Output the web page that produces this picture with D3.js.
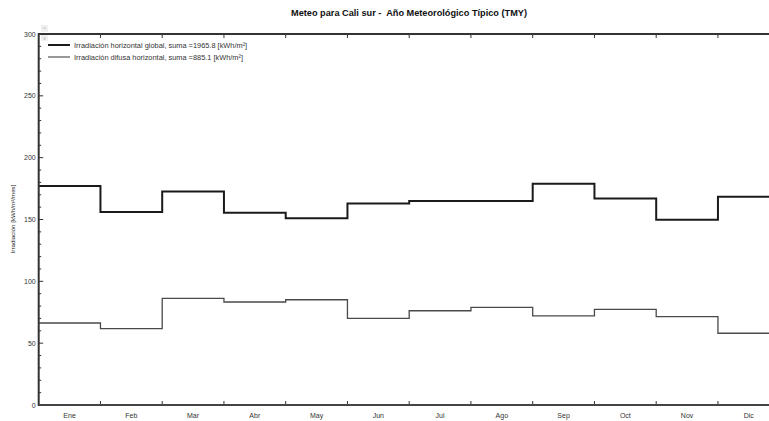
<!DOCTYPE html>
<html>
<head>
<meta charset="utf-8">
<script src="https://cdn.jsdelivr.net/npm/d3@7"></script>
<style>
  body { margin: 0; background: #fff; }
  svg { font-family: "Liberation Sans", Arial, sans-serif; }
</style>
</head>
<body>
<div id="chart"></div>
<script>
// monthly values
const months = ["Ene", "Feb", "Mar", "Abr", "May", "Jun", "Jul", "Ago", "Sep", "Oct", "Nov", "Dic"];
const globalValues = [177, 156, 172.7, 155.5, 151, 163, 165, 165, 178.9, 167, 149.8, 168.4];
const diffuseValues = [66.3, 61.7, 86.2, 83.3, 85.1, 70.1, 76.2, 79, 72, 77.4, 71.4, 58];
const yTicks = [0, 50, 100, 150, 200, 250, 300];
const legendLabels = [
    "Irradiación horizontal global, suma =1965.8 [kWh/m²]",
    "Irradiación difusa horizontal, suma =885.1 [kWh/m²]"
];

const W = 769, H = 421;
const margin = {top: 34, left: 38.7, bottom: 16};
const plotRight = 779.7;

const svg = d3.select("#chart").append("svg")
    .attr("width", W)
    .attr("height", H);

// scales
const x = d3.scaleLinear().domain([0, 12]).range([margin.left, plotRight]);
const y = d3.scaleLinear().domain([0, 300]).range([H - margin.bottom, margin.top]);

// title
svg.append("text")
    .attr("x", 409)
    .attr("y", 16)
    .attr("text-anchor", "middle")
    .style("font-size", "9.2px")
    .style("font-weight", "bold")
    .style("white-space", "pre")
    .attr("fill", "#111")
    .text("Meteo para Cali sur -  Año Meteorológico Típico (TMY)");

// y axis label
svg.append("text")
    .attr("transform", `translate(15, 219) rotate(-90)`)
    .attr("text-anchor", "middle")
    .style("font-size", "6.2px")
    .attr("fill", "#222")
    .text("Irradiación [kWh/m²/mes]");

// step lines
const line = d3.line()
    .x(d => x(d[0]))
    .y(d => y(d[1]))
    .curve(d3.curveStepAfter);

function stepPoints(values) {
    let pts = values.map((v, i) => [i, v]);
    pts.push([12, values[values.length - 1]]);
    return pts;
}

svg.append("path")
    .attr("d", line(stepPoints(diffuseValues)))
    .attr("fill", "none")
    .attr("stroke", "#4a4a4a")
    .attr("stroke-width", 1.3);

svg.append("path")
    .attr("d", line(stepPoints(globalValues)))
    .attr("fill", "none")
    .attr("stroke", "#1a1a1a")
    .attr("stroke-width", 2);

// left axis with minor ticks inside
const axisG = svg.append("g").attr("class", "axis");
axisG.selectAll(".minor")
    .data(d3.range(0, 301, 10))
    .enter().append("line")
    .attr("x1", margin.left)
    .attr("x2", d => margin.left + (d % 50 === 0 ? 4.5 : 2.5))
    .attr("y1", d => y(d))
    .attr("y2", d => y(d))
    .attr("stroke", "#333")
    .attr("stroke-width", 1);

axisG.selectAll(".ylab")
    .data(yTicks)
    .enter().append("text")
    .attr("x", margin.left - 3)
    .attr("y", d => y(d) + 2.5)
    .attr("text-anchor", "end")
    .style("font-size", "7px")
    .attr("fill", "#333")
    .text(d => d);

// month boundary ticks, top and bottom
axisG.selectAll(".tickTop")
    .data(d3.range(1, 12))
    .enter().append("line")
    .attr("x1", d => x(d)).attr("x2", d => x(d))
    .attr("y1", y(300)).attr("y2", y(300) + 4)
    .attr("stroke", "#333");

axisG.selectAll(".tickBot")
    .data(d3.range(1, 12))
    .enter().append("line")
    .attr("x1", d => x(d)).attr("x2", d => x(d))
    .attr("y1", y(0)).attr("y2", y(0) - 4)
    .attr("stroke", "#333");

// frame lines
axisG.append("line")
    .attr("x1", margin.left).attr("x2", margin.left)
    .attr("y1", y(300) - 1).attr("y2", y(0) + 1)
    .attr("stroke", "#333").attr("stroke-width", 2);
axisG.append("line")
    .attr("x1", margin.left).attr("x2", plotRight)
    .attr("y1", y(300)).attr("y2", y(300))
    .attr("stroke", "#333").attr("stroke-width", 2);
axisG.append("line")
    .attr("x1", margin.left).attr("x2", plotRight)
    .attr("y1", y(0)).attr("y2", y(0))
    .attr("stroke", "#444").attr("stroke-width", 2);

// month labels
axisG.selectAll(".month")
    .data(months)
    .enter().append("text")
    .attr("x", (d, i) => x(i + 0.5))
    .attr("y", y(0) + 13)
    .attr("text-anchor", "middle")
    .style("font-size", "7px")
    .attr("fill", "#333")
    .text(d => d);

// little scroll arrows at the top-left corner
svg.append("rect").attr("x", 41).attr("y", 25).attr("width", 7).attr("height", 7).attr("fill", "#f0f0f0");
svg.append("rect").attr("x", 41).attr("y", 35).attr("width", 7).attr("height", 6).attr("fill", "#f0f0f0");
svg.append("text").attr("x", 44.5).attr("y", 31).attr("text-anchor", "middle")
    .style("font-size", "6px").attr("fill", "#aaa").text("^");
svg.append("text").attr("x", 44.5).attr("y", 40).attr("text-anchor", "middle")
    .style("font-size", "5px").attr("fill", "#aaa").text("v");

// legend
const legend = svg.append("g").attr("transform", "translate(48, 45)");
const legendWidths = [2, 1];
legend.selectAll(".lg-line")
    .data(legendLabels)
    .enter().append("line")
    .attr("x1", 0).attr("x2", 22)
    .attr("y1", (d, i) => i * 12).attr("y2", (d, i) => i * 12)
    .attr("stroke", (d, i) => i === 0 ? "#1a1a1a" : "#333")
    .attr("stroke-width", (d, i) => legendWidths[i]);
legend.selectAll(".lg-text")
    .data(legendLabels)
    .enter().append("text")
    .attr("x", 26)
    .attr("y", (d, i) => i * 12 + 2.5)
    .style("font-size", "7.4px")
    .attr("fill", "#333")
    .text(d => d);
</script>
</body>
</html>
